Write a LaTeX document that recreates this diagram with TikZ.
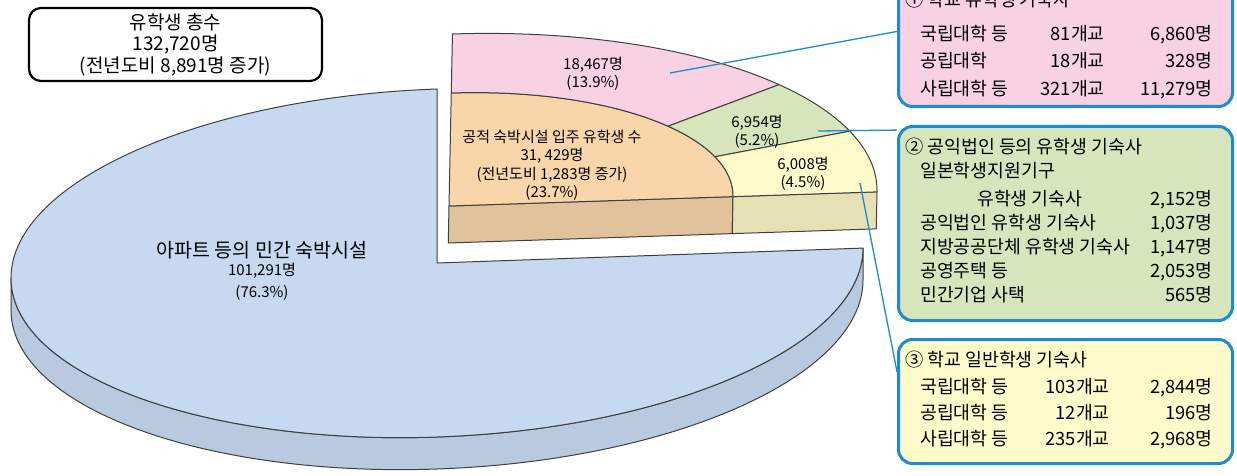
\documentclass[tikz,border=0pt]{standalone}
\usepackage{fontspec}
\setmainfont{Noto Sans CJK KR}
\usetikzlibrary{positioning}

\definecolor{outline}{HTML}{3F3F3F}
\definecolor{bluetop}{HTML}{C6D9F0}
\definecolor{blueside}{HTML}{B8C9E0}
\definecolor{pinktop}{HTML}{F8D1E3}
\definecolor{orangetop}{HTML}{F9D6AA}
\definecolor{orangeside}{HTML}{E1C39B}
\definecolor{greentop}{HTML}{D7E5BC}
\definecolor{yellowtop}{HTML}{FFFAC9}
\definecolor{yellowside}{HTML}{E6E1B4}
\definecolor{yellowbox}{HTML}{FFFBCB}
\definecolor{callblue}{HTML}{1B8BD2}

\begin{document}
\begin{tikzpicture}[x=1pt,y=1pt,
 slice/.style={draw=outline,line width=1pt,line join=round},
 leader/.style={draw=callblue,line width=1.3pt},
 infobox/.style={draw=callblue,line width=3pt,rounded corners=14pt,minimum width=334pt},
 pielabel/.style={align=center,font=\fontsize{15}{18.5}\selectfont},
 boxtext/.style={font=\fontsize{18.3}{21}\selectfont,inner sep=0pt}]
 \clip (0,0) rectangle (1237,475);
 \begin{scope}[cm={1,0.035,0,1,(437,212)}]
  \coordinate (mc) at (0,0);
  \draw[slice,fill=blueside] (180:426 and 174) arc[start angle=180,end angle=360,x radius=426,y radius=174] -- ++(0,-32) arc[start angle=360,end angle=180,x radius=426,y radius=174] -- cycle;
  \draw[slice,fill=bluetop] (mc) -- (90:426 and 174) arc[start angle=90,end angle=360,x radius=426,y radius=174] -- cycle;
 \end{scope}
 \begin{scope}[cm={1,0.033,0.02,1,(449,269)}]
  \coordinate (qc) at (0,0);
  \draw[slice,fill=orangeside] (qc) -- (284,0) -- (284,-37) -- (0,-37) -- cycle;
  \draw[slice,fill=yellowside] (284,0) -- (428,0) -- (428,-37) -- (284,-37) -- cycle;
  \draw[slice,fill=orangetop] (qc) -- (90:284 and 113) arc[start angle=90,end angle=0,x radius=284,y radius=113] -- cycle;
  \draw[slice,fill=pinktop] (90:428 and 172) arc[start angle=90,end angle=40,x radius=428,y radius=172] -- (40:284 and 113) arc[start angle=40,end angle=90,x radius=284,y radius=113] -- cycle;
  \draw[slice,fill=greentop] (40:428 and 172) arc[start angle=40,end angle=21,x radius=428,y radius=172] -- (21:284 and 113) arc[start angle=21,end angle=40,x radius=284,y radius=113] -- cycle;
  \draw[slice,fill=yellowtop] (21:428 and 172) arc[start angle=21,end angle=0,x radius=428,y radius=172] -- (284,0) arc[start angle=0,end angle=21,x radius=284,y radius=113] -- cycle;
 \end{scope}

 \node[draw,line width=2.2pt,rounded corners=12pt,minimum width=293pt,minimum height=73pt,align=center,font=\fontsize{19}{21.5}\selectfont] (total) at (175.5,430.5) {유학생 총수\\132,720명\\(전년도비 8,891명 증가)};

 \node[font=\fontsize{19.5}{22}\selectfont] (privname) at (262,225) {아파트 등의 민간 숙박시설};
 \node[align=center,font=\fontsize{15}{22}\selectfont,below=-3pt of privname] (privnum) {101,291명\\(76.3\%)};
 \node[pielabel] (pinklab) at (593,401) {18,467명\\(13.9\%)};
 \node[pielabel] (publab) at (552,310) {공적 숙박시설 입주 유학생 수\\31, 429명\\(전년도비 1,283명 증가)\\(23.7\%)};
 \node[pielabel] (greenlab) at (757,343) {6,954명\\(5.2\%)};
 \node[pielabel] (yellowlab) at (803,301) {6,008명\\(4.5\%)};

 \coordinate (p1) at (670,402);
 \coordinate (p2) at (818,344);
 \coordinate (p3) at (860,292);

 \node[infobox,fill=pinktop,minimum height=126.5pt] (box1) at (1065.5,431.75) {};
 \node[infobox,fill=greentop,minimum height=194pt] (box2) at (1065.5,251.5) {};
 \node[infobox,fill=yellowbox,minimum height=124pt] (box3) at (1065.5,73.5) {};
 \draw[leader] (p1) -- (box1.176);
 \draw[leader] (p2) -- (box2.151);
 \draw[leader] (p3) -- (box3.170);

 \node[boxtext,anchor=base west] (title1) at (905,468) {① 학교 유학생 기숙사};
 \node[boxtext,anchor=base west] (kind11) at (920,434) {국립대학 등};
 \node[boxtext,anchor=base east] (count11) at (1105,434) {81개교};
 \node[boxtext,anchor=base east] (num11) at (1213,434) {6,860명};
 \node[boxtext,anchor=base west] (kind12) at (920,407) {공립대학};
 \node[boxtext,anchor=base east] (count12) at (1105,407) {18개교};
 \node[boxtext,anchor=base east] (num12) at (1213,407) {328명};
 \node[boxtext,anchor=base west] (kind13) at (920,379) {사립대학 등};
 \node[boxtext,anchor=base east] (count13) at (1105,379) {321개교};
 \node[boxtext,anchor=base east] (num13) at (1213,379) {11,279명};

 \node[boxtext,anchor=base west] (title2) at (905,322) {② 공익법인 등의 유학생 기숙사};
 \node[boxtext,anchor=base west] (kind21) at (920,298) {일본학생지원기구};
 \node[boxtext,anchor=base west] (kind22) at (977,270) {유학생 기숙사};
 \node[boxtext,anchor=base east] (num22) at (1213,270) {2,152명};
 \node[boxtext,anchor=base west] (kind23) at (920,246) {공익법인 유학생 기숙사};
 \node[boxtext,anchor=base east] (num23) at (1213,246) {1,037명};
 \node[boxtext,anchor=base west] (kind24) at (920,222) {지방공공단체 유학생 기숙사};
 \node[boxtext,anchor=base east] (num24) at (1213,222) {1,147명};
 \node[boxtext,anchor=base west] (kind25) at (920,198) {공영주택 등};
 \node[boxtext,anchor=base east] (num25) at (1213,198) {2,053명};
 \node[boxtext,anchor=base west] (kind26) at (920,174) {민간기업 사택};
 \node[boxtext,anchor=base east] (num26) at (1213,174) {565명};

 \node[boxtext,anchor=base west] (title3) at (905,109) {③ 학교 일반학생 기숙사};
 \node[boxtext,anchor=base west] (kind31) at (920,82) {국립대학 등};
 \node[boxtext,anchor=base east] (count31) at (1110,82) {103개교};
 \node[boxtext,anchor=base east] (num31) at (1213,82) {2,844명};
 \node[boxtext,anchor=base west] (kind32) at (920,56) {공립대학 등};
 \node[boxtext,anchor=base east] (count32) at (1110,56) {12개교};
 \node[boxtext,anchor=base east] (num32) at (1213,56) {196명};
 \node[boxtext,anchor=base west] (kind33) at (920,30) {사립대학 등};
 \node[boxtext,anchor=base east] (count33) at (1110,30) {235개교};
 \node[boxtext,anchor=base east] (num33) at (1213,30) {2,968명};
\end{tikzpicture}
\end{document}
